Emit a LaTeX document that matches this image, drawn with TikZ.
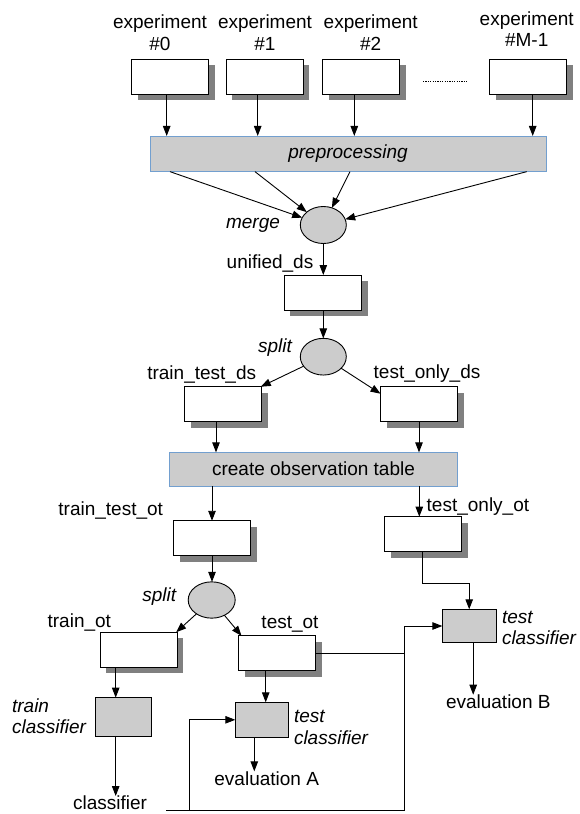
\documentclass[tikz,border=0pt]{standalone}
\usepackage{fontspec}
\setmainfont{Liberation Sans}
\usetikzlibrary{arrows.meta,shapes.geometric,shadows,calc}
\definecolor{procgray}{HTML}{CCCCCC}
\definecolor{shadowgray}{HTML}{808080}
\definecolor{bluebord}{HTML}{729FCF}
\begin{document}
\begin{tikzpicture}[x=1pt,y=-1pt,
  every node/.style={font=\fontsize{19}{21.5}\selectfont, inner sep=0pt, outer sep=0pt},
  arr/.style={draw=black, line width=0.9pt, -{Triangle[length=10pt,width=7.5pt]}},
  ln/.style={draw=black, line width=0.9pt},
  databox/.style={draw=black, line width=0.9pt, fill=white, minimum width=77pt, minimum height=35pt,
    drop shadow={shadow xshift=6pt, shadow yshift=-6pt, fill=shadowgray, opacity=1}},
  procbox/.style={draw=bluebord, line width=0.9pt, fill=procgray, minimum height=35pt},
  taskbox/.style={draw=black, line width=0.9pt, fill=procgray, minimum width=54pt, minimum height=35pt},
  opell/.style={ellipse, draw=black, line width=0.9pt, fill=procgray, minimum width=46pt, minimum height=37pt},
  lbl/.style={align=center},
  ilbl/.style={font=\fontsize{19}{21.5}\selectfont\itshape}
]
\fill[white] (0,0) rectangle (579,814);
\useasboundingbox (0,0) rectangle (579,814);

% experiments
\node[databox] (e0) at (170,76.7) {};
\node[databox] (e1) at (264.5,76.7) {};
\node[databox] (e2) at (361.3,76.7) {};
\node[databox] (eM) at (528.3,76.7) {};
\node[lbl] (l0) at (160,32.5) {experiment\\\#0};
\node[lbl] (l1) at (265,32.5) {experiment\\\#1};
\node[lbl] (l2) at (370.7,32.5) {experiment\\\#2};
\node[lbl] (lM) at (526.7,29) {experiment\\\#M-1};
\coordinate (d0) at (423,81);
\coordinate (d1) at (466.7,81);
\draw[line width=0.8pt, dash pattern=on 1.2pt off 1.2pt] (d0) -- (d1);

% preprocessing
\node[procbox, minimum width=396pt, minimum height=35.7pt] (pre) at (348,153.8) {\itshape preprocessing};
\draw[arr] ([xshift=-3.3pt]e0.south) -- ([xshift=-3.3pt]e0.south |- pre.north);
\draw[arr] ([xshift=-6.8pt]e1.south) -- ([xshift=-6.8pt]e1.south |- pre.north);
\draw[arr] ([xshift=-7pt]e2.south) -- ([xshift=-7pt]e2.south |- pre.north);
\draw[arr] ([xshift=4.4pt]eM.south) -- ([xshift=4.4pt]eM.south |- pre.north);

% merge
\node[opell] (merge) at (323.3,225) {};
\node[ilbl] (mergel) at (253,225) {merge};
\draw[arr] ($(pre.south west)+(20,0)$) -- (merge);
\draw[arr] ($(pre.south west)+(105,0)$) -- (merge);
\draw[arr] ($(pre.south west)+(200,0)$) -- (merge);
\draw[arr] ($(pre.south west)+(376.7,0)$) -- (merge);

% unified_ds
\node[databox, minimum width=77.7pt] (ud) at (322.8,292.5) {};
\node (udl) at (270,264) {unified\_ds};
\draw[arr] (merge.south) -- (merge.south |- ud.north);

% split 1
\node[opell, minimum height=36.7pt] (sp1) at (323.3,356.7) {};
\node[ilbl] (sp1l) at (275,348) {split};
\draw[arr] (ud.south -| sp1.north) -- (sp1.north);

\node[databox] (ttds) at (223.3,404.2) {};
\node[databox] (tods) at (419,404.2) {};
\node (ttdsl) at (201.7,374) {train\_test\_ds};
\node (todsl) at (427,374) {test\_only\_ds};
\draw[arr] (sp1) -- ([xshift=-1pt]ttds.north east);
\draw[arr] (sp1) -- ([yshift=-7pt]tods.north west);

% create observation table
\node[procbox, minimum width=288.4pt, minimum height=33.7pt] (cot) at (313.5,469.2) {create observation table};
\draw[arr] ([xshift=-7.3pt]ttds.south) -- ([xshift=-7.3pt]ttds.south |- cot.north);
\draw[arr] (tods.south) -- (tods.south |- cot.north);

% observation tables
\node[databox] (ttot) at (212,538.3) {};
\node (ttotl) at (110.7,510) {train\_test\_ot};
\draw[arr] (ttot.north |- cot.south) -- (ttot.north);
\node[databox] (toot) at (423,534.2) {};
\node[anchor=west] (tootl) at (426.7,507) {test\_only\_ot};
\draw[arr] ([xshift=-3.7pt]toot.north |- cot.south) -- ([xshift=-3.7pt]toot.north);

% split 2
\node[opell, minimum width=47pt, minimum height=36.3pt] (sp2) at (211.7,600) {};
\node[ilbl] (sp2l) at (159.3,597) {split};
\draw[arr] (ttot.south) -- (ttot.south |- sp2.north);

\node[databox] (trot) at (138.7,649.7) {};
\node[databox] (teot) at (277,653.3) {};
\node (trotl) at (79.3,622.7) {train\_ot};
\node (teotl) at (290,624.3) {test\_ot};
\draw[arr] (sp2) -- ([xshift=-1pt]trot.north east);
\draw[arr] (sp2) -- ([xshift=3pt]teot.north west);

% train classifier
\node[taskbox, minimum width=56pt, minimum height=38.3pt] (trc) at (123.7,716.8) {};
\node[ilbl, anchor=east, align=left] (trcl) at (86,716) {train\\classifier};
\draw[arr] ([xshift=-8pt]trc.north |- trot.south) -- ([xshift=-8pt]trc.north);
\node (clf) at (110,803) {classifier};
\draw[arr] ([xshift=-8pt]trc.south) -- ([xshift=-8pt]trc.south |- clf.north);

% test classifier A
\node[taskbox, minimum width=53.4pt] (tca) at (262,719.8) {};
\node[ilbl, anchor=west, align=left] (tcal) at (294,727.5) {test\\classifier};
\draw[arr] ([xshift=3.7pt]tca.north |- teot.south) -- ([xshift=3.7pt]tca.north);
\node (eva) at (266.7,778.3) {evaluation A};
\draw[arr] ([xshift=-7.7pt]tca.south) -- ([xshift=-7.7pt]tca.south |- eva.north);

% test classifier B
\node[taskbox, minimum width=53.7pt, minimum height=33.4pt] (tcb) at (469.2,626) {};
\node[ilbl, anchor=west, align=left] (tcbl) at (502,627.7) {test\\classifier};
\draw[arr] ([xshift=-0.3pt]toot.south) -- ++(0,31.6) -| (tcb.north);
\node (evb) at (498.3,701.7) {evaluation B};
\draw[arr] ([xshift=4pt]tcb.south) -- ([xshift=4pt]tcb.south |- evb.north);

% classifier feed lines
\coordinate (c0) at (166,810);
\coordinate (c1) at (189,810);
\coordinate (jx) at (404.3,626);
\draw[arr] (c0) -| (jx) -- (tcb.west);
\draw[arr] (c1) |- (tca.west);
\draw[ln] (teot.east) -- (teot.east -| jx);
\end{tikzpicture}
\end{document}
